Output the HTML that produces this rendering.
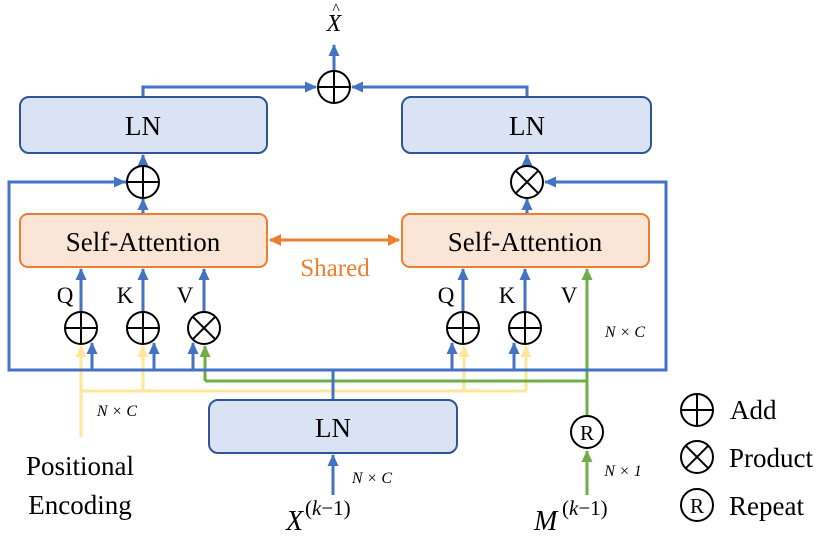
<!DOCTYPE html>
<html><head><meta charset="utf-8"><style>
html,body{margin:0;padding:0;background:#fff;}
svg{display:block;font-family:"Liberation Serif","DejaVu Serif",serif;}
svg text{font-family:"Liberation Serif","DejaVu Serif",serif;fill:#000;}
</style></head><body>
<svg width="831" height="539" viewBox="0 0 831 539" xmlns="http://www.w3.org/2000/svg" font-family="Liberation Serif, DejaVu Serif, serif">
<defs>
<marker id="ab" markerWidth="12" markerHeight="11" refX="11" refY="5.5" orient="auto" markerUnits="userSpaceOnUse"><path d="M0,0 L12,5.5 L0,11 z" fill="#4472c4"/></marker>
<marker id="ay" markerWidth="12" markerHeight="11" refX="11" refY="5.5" orient="auto" markerUnits="userSpaceOnUse"><path d="M0,0 L12,5.5 L0,11 z" fill="#ffe699"/></marker>
<marker id="ag" markerWidth="12" markerHeight="11" refX="11" refY="5.5" orient="auto" markerUnits="userSpaceOnUse"><path d="M0,0 L12,5.5 L0,11 z" fill="#70ad47"/></marker>
<marker id="ao" markerWidth="12" markerHeight="12" refX="11" refY="6" orient="auto" markerUnits="userSpaceOnUse"><path d="M0,0 L12,6 L0,12 z" fill="#ed7d31"/></marker>
<g id="add"><circle r="16" fill="#fff" stroke="#000" stroke-width="2"/><path d="M-16,0H16M0,-16V16" stroke="#000" stroke-width="2"/></g>
<g id="mul"><circle r="16" fill="#fff" stroke="#000" stroke-width="2"/><path d="M-11.3,-11.3L11.3,11.3M11.3,-11.3L-11.3,11.3" stroke="#000" stroke-width="2"/></g>
</defs>

<g stroke="#ffe699" stroke-width="3" fill="none">
<path d="M81,437 V391 H526"/>
<path d="M81,391 V346" marker-end="url(#ay)"/>
<path d="M143,391 V346" marker-end="url(#ay)"/>
<path d="M464,391 V346" marker-end="url(#ay)"/>
<path d="M526,391 V346" marker-end="url(#ay)"/>
</g>
<g stroke="#70ad47" stroke-width="3" fill="none">
<path d="M205,381 V346" marker-end="url(#ag)"/>
<path d="M205,381 H587"/>
<path d="M587,415 V269" marker-end="url(#ag)"/>
<path d="M587,495 V451" marker-end="url(#ag)"/>
</g>
<g stroke="#4472c4" stroke-width="3" fill="none">
<path d="M333,400 V370"/>
<path d="M127,182 H9 V370 H666 V182 H545" />
<path d="M9,182 H125" marker-end="url(#ab)"/>
<path d="M666,182 H545" marker-end="url(#ab)"/>
<path d="M92,370 V343" marker-end="url(#ab)"/>
<path d="M154,370 V343" marker-end="url(#ab)"/>
<path d="M193,370 V343" marker-end="url(#ab)"/>
<path d="M452,370 V343" marker-end="url(#ab)"/>
<path d="M514,370 V343" marker-end="url(#ab)"/>
<path d="M81,312 V269" marker-end="url(#ab)"/>
<path d="M143,312 V269" marker-end="url(#ab)"/>
<path d="M204,312 V269" marker-end="url(#ab)"/>
<path d="M463,312 V269" marker-end="url(#ab)"/>
<path d="M525,312 V269" marker-end="url(#ab)"/>
<path d="M143,214 V199" marker-end="url(#ab)"/>
<path d="M527,214 V199" marker-end="url(#ab)"/>
<path d="M143,166 V155" marker-end="url(#ab)"/>
<path d="M527,166 V155" marker-end="url(#ab)"/>
<path d="M143,97 V87 H316" marker-end="url(#ab)"/>
<path d="M527,97 V87 H352" marker-end="url(#ab)"/>
<path d="M334,71 V45" marker-end="url(#ab)"/>
<path d="M333,495 V455" marker-end="url(#ab)"/>
</g>
<path d="M270,240 H399" stroke="#ed7d31" stroke-width="3" marker-end="url(#ao)" fill="none"/>
<path d="M281,234 L269,240 L281,246z" fill="#ed7d31"/>

<g stroke="#2f5597" stroke-width="2" fill="#dae3f3">
<rect x="20" y="97" width="247" height="56" rx="9"/>
<rect x="402" y="97" width="249" height="56" rx="9"/>
<rect x="209" y="400" width="248" height="53" rx="9"/>
</g>
<g stroke="#ed7d31" stroke-width="2" fill="#fbe5d6">
<rect x="20" y="214" width="247" height="53" rx="8"/>
<rect x="402" y="214" width="247" height="53" rx="8"/>
</g>
<g font-size="27" text-anchor="middle">
<text x="143" y="135">LN</text>
<text x="527" y="135">LN</text>
<text x="333" y="437">LN</text>
<text x="143" y="251">Self-Attention</text>
<text x="525" y="251">Self-Attention</text>
</g>
<text x="335" y="276" font-size="25" text-anchor="middle" style="fill:#ed7d31">Shared</text>

<use href="#add" x="334" y="87"/>
<use href="#add" x="143" y="182"/>
<use href="#mul" x="527" y="182"/>
<use href="#add" x="81" y="328"/>
<use href="#add" x="143" y="328"/>
<use href="#mul" x="204" y="328"/>
<use href="#add" x="463" y="328"/>
<use href="#add" x="525" y="328"/>
<circle cx="587" cy="432" r="16" fill="#fff" stroke="#000" stroke-width="2"/>
<text x="587" y="440" font-size="21" text-anchor="middle">R</text>

<g font-size="23" text-anchor="middle">
<text x="65" y="303">Q</text><text x="125" y="303">K</text><text x="185" y="303">V</text>
<text x="446" y="303">Q</text><text x="507" y="303">K</text><text x="569" y="303">V</text>
</g>

<g font-size="16" font-style="italic" text-anchor="middle">
<text x="117" y="416">N × C</text>
<text x="625" y="337">N × C</text>
<text x="372" y="483">N × C</text>
<text x="623" y="476">N × 1</text>
</g>

<text x="334" y="31" font-size="24" font-style="italic" text-anchor="middle">X</text>
<text x="336" y="14" font-size="16" text-anchor="middle">^</text>
<text x="286" y="530" font-size="28" font-style="italic">X</text>
<text x="305" y="515" font-size="21">(<tspan font-style="italic">k</tspan>−1)</text>
<text x="534" y="530" font-size="28" font-style="italic">M</text>
<text x="562" y="515" font-size="21">(<tspan font-style="italic">k</tspan>−1)</text>

<g font-size="27" text-anchor="middle">
<text x="80" y="475">Positional</text>
<text x="80" y="514">Encoding</text>
</g>

<use href="#add" x="697" y="410"/>
<use href="#mul" x="697" y="457"/>
<circle cx="697" cy="505" r="16" fill="#fff" stroke="#000" stroke-width="2"/>
<text x="697" y="513" font-size="21" text-anchor="middle">R</text>
<g font-size="27">
<text x="730" y="419">Add</text>
<text x="729" y="467">Product</text>
<text x="729" y="515">Repeat</text>
</g>
</svg>
</body></html>
